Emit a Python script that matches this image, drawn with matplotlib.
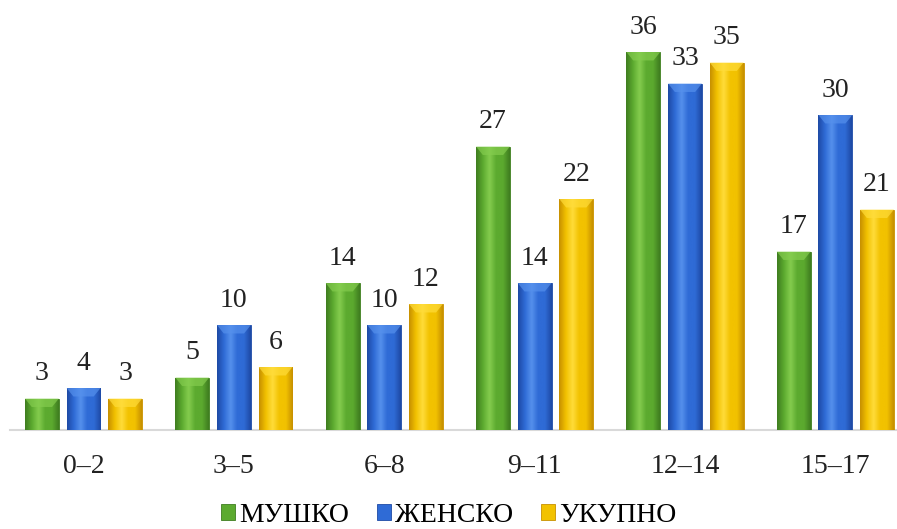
import numpy as np
import matplotlib
matplotlib.use("Agg")
import matplotlib.pyplot as plt
from matplotlib.colors import LinearSegmentedColormap
from matplotlib.patches import Polygon, Patch

# data
groups = ["0\u20132", "3\u20135", "6\u20138", "9\u201311", "12\u201314", "15\u201317"]
series = ["МУШКО", "ЖЕНСКО", "УКУПНО"]
musko = [3, 5, 14, 27, 36, 17]
zensko = [4, 10, 10, 14, 33, 30]
ukupno = [3, 6, 12, 22, 35, 21]

# (dark edge, main, light) per series
PALETTE = [
    ("#3f7d20", "#5caa2f", "#84cc4e"),
    ("#1e4aa5", "#2f6bd6", "#5590ec"),
    ("#c79000", "#f2c200", "#ffdc3a"),
]

plt.rcParams["font.family"] = ["Liberation Serif", "DejaVu Serif"]

fig = plt.figure(figsize=(8.97, 5.29), dpi=100)
ax = fig.add_axes([0.011, 0.187, 0.989, 0.794])

x = np.arange(len(groups))
width = 0.225
step = 0.277
values = [musko, zensko, ukupno]

XLIM = (-0.49, 5.41)
YLIM = (0, 40)
ax.set_xlim(*XLIM)
ax.set_ylim(*YLIM)


def shade_bar(bar, cols):
    dark, main, light = cols
    cmap = LinearSegmentedColormap.from_list("b", [dark, main, light, main, main, dark])
    x0, y0 = bar.get_x(), bar.get_y()
    w, h = bar.get_width(), bar.get_height()
    grad = np.linspace(0, 1, 64).reshape(1, -1)
    im = ax.imshow(grad, cmap=cmap, extent=[x0, x0 + w, y0, y0 + h],
                   aspect="auto", zorder=2, interpolation="bicubic")
    im.set_clip_path(bar)
    # top bevel
    bh = min(0.8, h * 0.35)
    poly = Polygon([(x0, h), (x0 + w, h), (x0 + w * 0.8, h - bh), (x0 + w * 0.2, h - bh)],
                   closed=True, facecolor=light, edgecolor="none", alpha=0.7, zorder=3)
    ax.add_patch(poly)


for i, (vals, cols) in enumerate(zip(values, PALETTE)):
    bars = ax.bar(x + (i - 1) * step, vals, width, color=cols[1], edgecolor=cols[0],
                  linewidth=0.6, zorder=1, label=series[i])
    for b in bars:
        shade_bar(b, cols)
    for b, v in zip(bars, vals):
        ax.annotate(str(v), (b.get_x() + b.get_width() / 2, v), xytext=(0, 9),
                    textcoords="offset points", ha="center", va="bottom", fontsize=20,
                    color="#222222")

ax.set_xlim(*XLIM)
ax.set_ylim(*YLIM)

for s in ["top", "right", "left"]:
    ax.spines[s].set_visible(False)
ax.spines["bottom"].set_color("#d9d9d9")
ax.spines["bottom"].set_linewidth(1.5)
ax.spines["bottom"].set_zorder(0)
ax.set_yticks([])
ax.set_xticks(x)
ax.set_xticklabels(groups, fontsize=20, color="#222222")
ax.tick_params(axis="x", length=0, pad=17)

handles = [Patch(facecolor=c[1], edgecolor=c[0], linewidth=0.6) for c in PALETTE]
fig.legend(handles, series, loc="lower center", bbox_to_anchor=(0.5, -0.035), ncol=3,
           frameon=False, fontsize=20, handlelength=0.5, handleheight=0.5,
           handletextpad=0.15, columnspacing=1.0, borderpad=0.2)

fig.savefig("out.png", dpi=100)
